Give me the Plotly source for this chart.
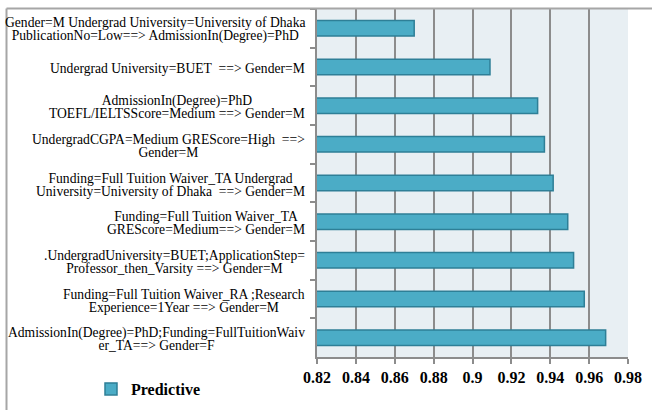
import plotly.graph_objects as go

rules = [
    "Gender=M Undergrad University=University of Dhaka<br>PublicationNo=Low==> AdmissionIn(Degree)=PhD",
    "Undergrad University=BUET&nbsp; ==> Gender=M",
    "AdmissionIn(Degree)=PhD<br>TOEFL/IELTSScore=Medium ==> Gender=M",
    "UndergradCGPA=Medium GREScore=High&nbsp; ==><br>Gender=M",
    "Funding=Full Tuition Waiver_TA Undergrad<br>University=University of Dhaka&nbsp; ==> Gender=M",
    "Funding=Full Tuition Waiver_TA<br>GREScore=Medium==> Gender=M",
    ".UndergradUniversity=BUET;ApplicationStep=<br>Professor_then_Varsity ==> Gender=M",
    "Funding=Full Tuition Waiver_RA ;Research<br>Experience=1Year ==> Gender=M",
    "AdmissionIn(Degree)=PhD;Funding=FullTuitionWaiv<br>er_TA==> Gender=F",
]
predictive = [0.870, 0.909, 0.9335, 0.937, 0.9415, 0.949, 0.952, 0.9575, 0.9685]
x_ticks = [0.82, 0.84, 0.86, 0.88, 0.9, 0.92, 0.94, 0.96, 0.98]
x_ticktext = ["0.82", "0.84", "0.86", "0.88", "0.9", "0.92", "0.94", "0.96", "0.98"]
series_name = "Predictive"

W, H = 652, 410
ML, MR, MT, MB = 317, 24, 9, 53
pw, ph = W - ML - MR, H - MT - MB

fig = go.Figure()
fig.add_trace(go.Bar(
    y=rules, x=predictive, orientation="h", name=series_name,
    width=0.4,
    marker=dict(color="#4BACC6", line=dict(color="#2E7F97", width=1.5)),
    showlegend=True,
))

annotations = []
for r in rules:
    lines = r.split("<br>")
    txt = "<br>".join(f"<span style='font-size:13.6px'>{ln}</span>" for ln in lines)
    annotations.append(dict(
        x=0, xref="paper", y=r, yref="y", xanchor="right", yanchor="middle",
        xshift=-10, yshift=-1.5, text=txt, showarrow=False, align="center",
        font=dict(family="Liberation Serif", size=10.3, color="#000"),
    ))

fig.update_layout(
    width=W, height=H,
    margin=dict(l=ML, r=MR, t=MT, b=MB, autoexpand=False),
    paper_bgcolor="white", plot_bgcolor="#E8EFF3",
    font=dict(family="Liberation Serif", color="#000"),
    bargap=0.6,
    annotations=annotations,
    xaxis=dict(
        range=[0.82, 0.98], tickvals=x_ticks, ticktext=x_ticktext,
        showgrid=True, gridcolor="#8C8C8C", gridwidth=2,
        showline=True, linecolor="#8C8C8C", linewidth=2,
        ticks="outside", ticklen=5, tickcolor="#8C8C8C", tickwidth=2,
        tickfont=dict(family="Liberation Serif", size=16, color="#000", weight="bold"),
        zeroline=False, fixedrange=True, automargin=False,
    ),
    yaxis=dict(
        categoryorder="array", categoryarray=rules, autorange="reversed",
        showticklabels=False, tickson="boundaries",
        ticks="outside", ticklen=5, tickcolor="#8C8C8C", tickwidth=1.5,
        showline=True, linecolor="#8C8C8C", linewidth=2,
        showgrid=False, fixedrange=True, automargin=False,
    ),
    legend=dict(
        orientation="h", xref="container", yref="container",
        x=91 / W, y=1 - 372 / H, xanchor="left", yanchor="top",
        font=dict(family="Liberation Serif", size=16, color="#000", weight="bold"),
        bgcolor="rgba(0,0,0,0)",
    ),
    shapes=[
        dict(type="line", xref="paper", yref="paper", x0=(6.5 - ML) / pw, x1=(W + 5 - ML) / pw,
             y0=1 + 0.5 / ph, y1=1 + 0.5 / ph, line=dict(color="#A6A6A6", width=2)),
        dict(type="line", xref="paper", yref="paper", x0=(6.5 - ML) / pw, x1=(6.5 - ML) / pw,
             y0=1 + 0.5 / ph, y1=-(MB + 5) / ph, line=dict(color="#A6A6A6", width=2)),
    ],
)

fig.write_html("out.html", config={"displayModeBar": False},
               post_script="document.body.style.margin='0';document.body.style.overflow='hidden';")
